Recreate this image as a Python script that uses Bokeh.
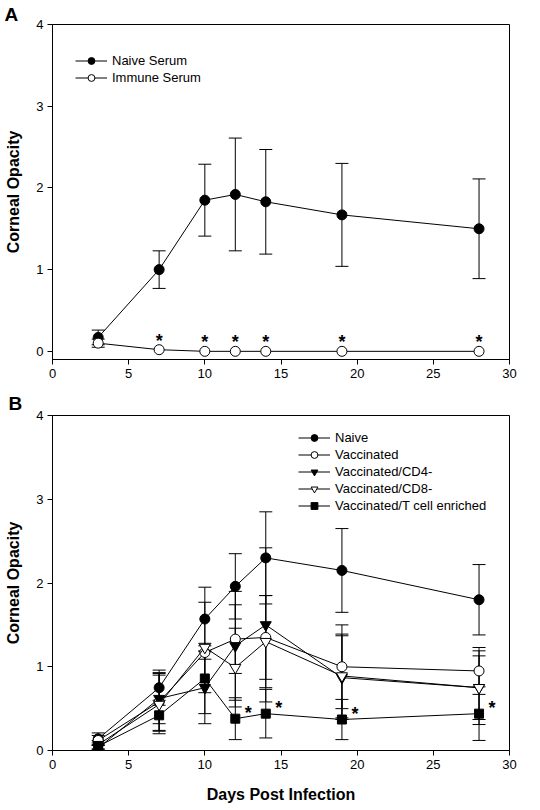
from bokeh.plotting import figure
from bokeh.models import (ColumnDataSource, Whisker, TeeHead, Legend, LegendItem,
                          Range1d, FixedTicker)
from bokeh.layouts import column
from bokeh.core.properties import value
from bokeh.embed import file_html
from bokeh.resources import INLINE

FONT = "Liberation Sans"

# ---------------- data ----------------
days = [3, 7, 10, 12, 14, 19, 28]

# Panel A
naive_serum = [0.17, 1.00, 1.85, 1.92, 1.83, 1.67, 1.50]
naive_serum_err = [0.09, 0.23, 0.44, 0.69, 0.64, 0.63, 0.61]
immune_serum = [0.10, 0.02, 0.00, 0.00, 0.00, 0.00, 0.00]
immune_serum_err = [0.05, 0.00, 0.00, 0.00, 0.00, 0.00, 0.00]
stars_A_days = [7, 10, 12, 14, 19, 28]

# Panel B
naive = [0.14, 0.75, 1.57, 1.96, 2.30, 2.15, 1.80]
naive_err = [0.07, 0.21, 0.38, 0.39, 0.55, 0.50, 0.42]
vaccinated = [0.12, 0.58, 1.17, 1.33, 1.35, 1.00, 0.95]
vaccinated_err = [0.06, 0.35, 0.08, 0.41, 0.50, 0.50, 0.28]
cd4 = [0.03, 0.62, 0.75, 1.25, 1.50, 0.87, 0.75]
cd4_err = [0.03, 0.30, 0.43, 0.65, 0.92, 0.50, 0.44]
cd8 = [0.07, 0.55, 1.23, 0.99, 1.30, 0.89, 0.75]
cd8_err = [0.05, 0.35, 0.54, 0.47, 0.55, 0.50, 0.38]
tcell = [0.05, 0.42, 0.86, 0.38, 0.44, 0.37, 0.44]
tcell_err = [0.04, 0.18, 0.42, 0.25, 0.29, 0.24, 0.32]
stars_B_days = [12, 14, 19, 28]

x_ticks = [0, 5, 10, 15, 20, 25, 30]
y_ticks = [0, 1, 2, 3, 4]


def make_fig(height, top, bottom, left, right, ymin, xlabel, panel, title_offset, title_standoff):
    p = figure(width=536, height=height, output_backend="svg", toolbar_location=None,
               x_range=Range1d(0, 30), y_range=Range1d(ymin, 4),
               min_border_left=left, min_border_right=right,
               min_border_top=top, min_border_bottom=bottom,
               title=panel)
    p.title.text_font = FONT
    p.title.text_font_size = "19px"
    p.title.text_font_style = "bold"
    p.title.text_color = "black"
    p.title.align = "left"
    p.title.offset = title_offset
    p.title.standoff = title_standoff
    p.grid.visible = False
    p.outline_line_color = "black"
    p.outline_line_width = 1
    p.background_fill_color = "white"
    p.border_fill_color = "white"
    for ax in (p.xaxis[0], p.yaxis[0]):
        ax.axis_line_color = "black"
        ax.major_tick_line_color = "black"
        ax.minor_tick_line_color = None
        ax.major_tick_in = 0
        ax.major_tick_out = 5
        ax.major_label_text_font = FONT
        ax.major_label_text_font_size = "13px"
        ax.major_label_text_color = "black"
        ax.major_label_standoff = 4
        ax.axis_label_text_font = FONT
        ax.axis_label_text_font_style = "bold"
        ax.axis_label_text_font_size = "16px"
        ax.axis_label_text_color = "black"
    p.xaxis.ticker = FixedTicker(ticks=x_ticks)
    p.yaxis.ticker = FixedTicker(ticks=y_ticks)
    p.yaxis.axis_label = "Corneal Opacity"
    p.yaxis.axis_label_standoff = 11
    if xlabel:
        p.xaxis.axis_label = xlabel
        p.xaxis.axis_label_standoff = 14
    return p


def add_series(p, ys, errs, marker, fill, size):
    up = [y + e for y, e in zip(ys, errs) if e > 0]
    lo = [y - e for y, e in zip(ys, errs) if e > 0]
    xs = [d for d, e in zip(days, errs) if e > 0]
    src = ColumnDataSource(dict(x=xs, upper=up, lower=lo))
    w = Whisker(base="x", upper="upper", lower="lower", source=src,
                line_color="black", line_width=1,
                upper_head=TeeHead(size=13, line_color="black", line_width=1),
                lower_head=TeeHead(size=13, line_color="black", line_width=1))
    p.add_layout(w)
    ln = p.line(days, ys, line_color="black", line_width=1)
    sc = p.scatter(days, ys, marker=marker, size=size, fill_color=fill,
                   line_color="black", line_width=1)
    return [ln, sc]


def make_legend(p, items, x, y):
    leg = Legend(items=items, location=(x, y), orientation="vertical")
    leg.label_text_font = FONT
    leg.label_text_font_size = "13px"
    leg.label_text_color = "black"
    leg.glyph_width = 32
    leg.glyph_height = 17
    leg.label_height = 17
    leg.label_standoff = 5
    leg.spacing = 0
    leg.padding = 0
    leg.margin = 0
    leg.border_line_alpha = 0
    leg.background_fill_alpha = 0
    p.add_layout(leg, "center")


def add_stars(p, sx, sy, x_off, y_off):
    p.text(sx, sy, text=["*"] * len(sx), text_font=value(FONT), text_font_style="bold",
           text_font_size="18px", text_align="center", text_baseline="alphabetic",
           x_offset=x_off, y_offset=y_off, text_color="black")


# ---------------- Panel A ----------------
pA = make_fig(388, 24, 29, 52, 24, -0.1, None, "A", -48, 0)
rA1 = add_series(pA, naive_serum, naive_serum_err, "circle", "black", 10)
rA2 = add_series(pA, immune_serum, immune_serum_err, "circle", "white", 10)
make_legend(pA, [LegendItem(label="Naive Serum", renderers=rA1),
                 LegendItem(label="Immune Serum", renderers=rA2)], 23, 273)
sA_y = [immune_serum[days.index(d)] for d in stars_A_days]
add_stars(pA, stars_A_days, sA_y, 0, -9)

# ---------------- Panel B ----------------
pB = make_fig(418, 27, 56, 49, 27, 0, "Days Post Infection", "B", -44, 4)
rB1 = add_series(pB, naive, naive_err, "circle", "black", 10)
rB2 = add_series(pB, vaccinated, vaccinated_err, "circle", "white", 10)
rB3 = add_series(pB, cd4, cd4_err, "inverted_triangle", "black", 11)
rB4 = add_series(pB, cd8, cd8_err, "inverted_triangle", "white", 11)
rB5 = add_series(pB, tcell, tcell_err, "square", "black", 9)
make_legend(pB, [LegendItem(label="Naive", renderers=rB1),
                 LegendItem(label="Vaccinated", renderers=rB2),
                 LegendItem(label="Vaccinated/CD4-", renderers=rB3),
                 LegendItem(label="Vaccinated/CD8-", renderers=rB4),
                 LegendItem(label="Vaccinated/T cell enriched", renderers=rB5)], 246, 236)
sB_y = [tcell[days.index(d)] for d in stars_B_days]
add_stars(pB, stars_B_days, sB_y, 13, -6)

layout = column(pA, pB, spacing=0)
open("out.html", "w").write(file_html(layout, INLINE))
